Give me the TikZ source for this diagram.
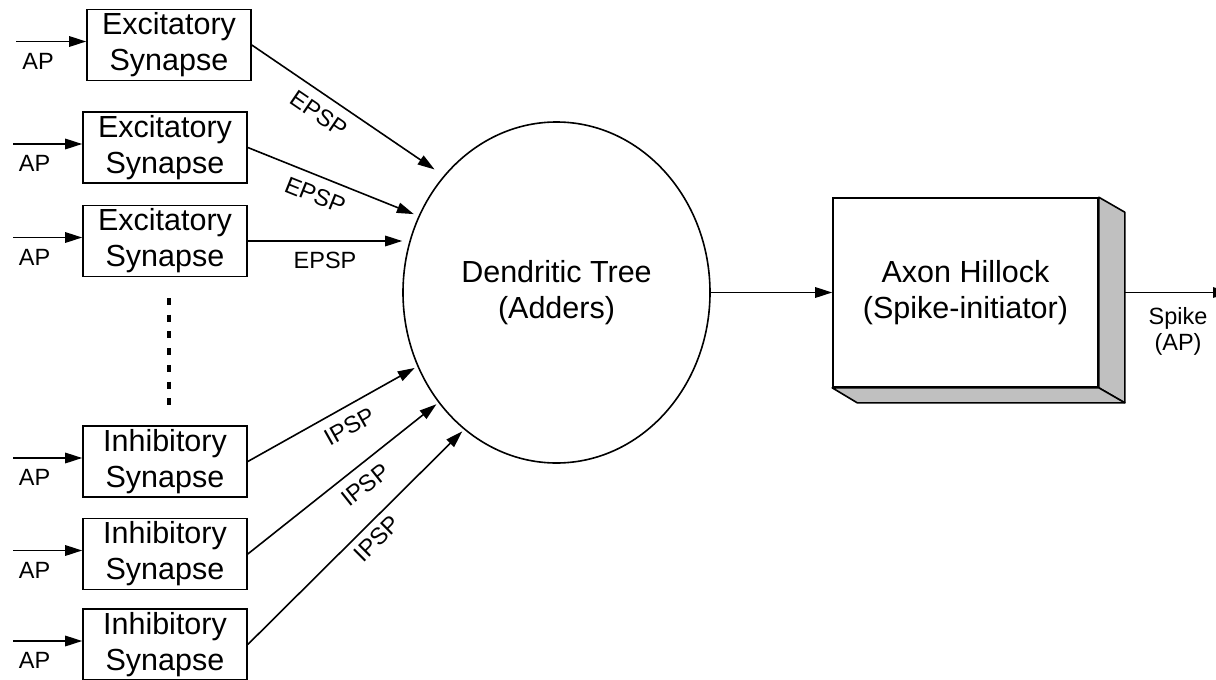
\documentclass[tikz,border=0pt]{standalone}
\usepackage{fontspec}
\setmainfont{Liberation Sans}
\usetikzlibrary{arrows.meta,calc,shapes.geometric}

\definecolor{facegray}{RGB}{192,192,192}

\begin{document}
\begin{tikzpicture}[x=1pt,y=1pt,
  synbox/.style={draw, line width=1.6pt, fill=white, minimum width=164pt,
    minimum height=71pt, inner sep=0pt, align=center,
    font=\fontsize{30.5}{36}\selectfont},
  bigtext/.style={font=\fontsize{30.5}{36}\selectfont, align=center},
  small/.style={font=\fontsize{23.5}{26}\selectfont, inner sep=3pt},
  conn/.style={line width=1.6pt, -{Triangle[length=17pt,width=10.5pt]}},
  lbl/.style={small, sloped, below=7pt},
]
\useasboundingbox (0,0) rectangle (1216,-680);

% synapse boxes
\node[synbox] (e1) at (169,-45)    {Excitatory\\Synapse};
\node[synbox] (e2) at (165,-147.5) {Excitatory\\Synapse};
\node[synbox] (e3) at (165,-241)   {Excitatory\\Synapse};
\node[synbox] (i1) at (165,-461.5) {Inhibitory\\Synapse};
\node[synbox] (i2) at (165,-554)   {Inhibitory\\Synapse};
\node[synbox] (i3) at (165,-644.5) {Inhibitory\\Synapse};

% incoming action potentials
\coordinate (in1) at (16,-41.5);
\coordinate (in2) at (13,-144);
\coordinate (in3) at (13,-237.5);
\coordinate (in4) at (13,-458);
\coordinate (in5) at (13,-550.5);
\coordinate (in6) at (13,-641);
\foreach \s/\b in {in1/e1,in2/e2,in3/e3,in4/i1,in5/i2,in6/i3}
  \draw[conn] (\s) -- (\s -| \b.west);

\node[small] (ap1) at (38,-61.1)  {AP};
\node[small] (ap2) at (34.5,-163.6) {AP};
\node[small] (ap3) at (34.5,-257.1) {AP};
\node[small] (ap4) at (34.5,-477.6) {AP};
\node[small] (ap5) at (34.5,-570.1) {AP};
\node[small] (ap6) at (34.5,-660.6) {AP};

% ellipsis between the two groups
\draw[line width=4pt, dash pattern=on 7pt off 9.7pt] (169,-298) -- (169,-405);

% dendritic tree
\node[draw, ellipse, line width=1.6pt, fill=white, minimum width=307pt,
  minimum height=341pt, inner sep=0pt, bigtext] (dt) at (556.5,-292.5)
  {Dendritic Tree\\(Adders)};

% axon hillock block with its depth faces
\node[draw, line width=1.6pt, fill=white, minimum width=265pt,
  minimum height=189pt, bigtext] (ah) at (965.5,-292.5)
  {Axon Hillock\\(Spike-initiator)};
\draw[line width=1.6pt, fill=facegray, line join=round]
  (ah.north east) -- ++(26,-15) -- ($(ah.south east)+(26,-15)$)
  -- (ah.south east) -- cycle;
\draw[line width=1.6pt, fill=facegray, line join=round]
  (ah.south west) -- ++(25,-15) -- ($(ah.south east)+(26,-15)$)
  -- (ah.south east) -- cycle;

% postsynaptic potentials
\draw[conn, shorten >=11pt] (e1.east) -- node[lbl, pos=0.405] (p1) {EPSP} (dt.134);
\draw[conn, shorten >=5pt]  (e2.east) -- node[lbl, pos=0.437] (p2) {EPSP} (dt.151);
\draw[conn] (e3.east) -- node[lbl] (p3) {EPSP} (e3.east -| dt.west);
\draw[conn, shorten >=3pt]  (i1.east) -- node[lbl, pos=0.544] (n1) {IPSP} (dt.208);
\draw[conn, shorten >=2.5pt](i2.east) -- node[lbl, pos=0.555] (n2) {IPSP} (dt.223);
\draw[conn, shorten >=2.5pt](i3.east) -- node[small, sloped, below=4pt, pos=0.545] (n3) {IPSP} (dt.236);

% summed potential to the hillock, spike out
\draw[conn] (dt.east) -- (ah.west);
\coordinate (ahside) at ($(ah.east)+(26,0)$);
\coordinate (out) at (1230,-292.5);
\draw[conn] (ahside) -- (out);
\node[small, align=center, font=\fontsize{23.5}{26}\selectfont] (spk)
  at (1178,-331) {Spike\\(AP)};
\end{tikzpicture}
\end{document}
